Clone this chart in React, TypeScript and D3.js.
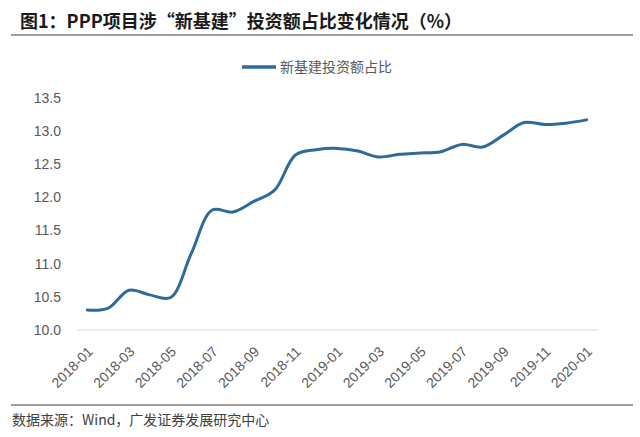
import React from "react";
import * as d3 from "d3";

const months: string[] = [
  "2018-01","2018-02","2018-03","2018-04","2018-05","2018-06","2018-07","2018-08","2018-09","2018-10","2018-11","2018-12",
  "2019-01","2019-02","2019-03","2019-04","2019-05","2019-06","2019-07","2019-08","2019-09","2019-10","2019-11","2019-12",
  "2020-01",
];
const shareValues: number[] = [
  10.30, 10.33, 10.60, 10.53, 10.49, 11.16, 11.81, 11.78, 11.94, 12.11, 12.64, 12.72,
  12.74, 12.70, 12.61, 12.65, 12.67, 12.69, 12.80, 12.76, 12.94, 13.13, 13.10, 13.12,
  13.17,
];
const yTicks: number[] = [10.0, 10.5, 11.0, 11.5, 12.0, 12.5, 13.0, 13.5];
const seriesName = "新基建投资额占比";
const titleText = "图1：PPP项目涉“新基建”投资额占比变化情况（%）";
const sourceText = "数据来源：Wind，广发证券发展研究中心";

const W = 640;
const H = 437;
const LINE = "#2f6b9a";
const TXT = "#595959";

export default function App() {
  const x = d3.scaleBand<string>().domain(months).range([77, 597]);
  const y = d3.scaleLinear().domain([10, 13.5]).range([330, 98]);
  const cx = (m: string) => (x(m) as number) + x.bandwidth() / 2;
  const line = d3
    .line<number>()
    .x((_, i) => cx(months[i]))
    .y((d) => y(d))
    .curve(d3.curveCatmullRom.alpha(0.5));
  const labelMonths = months.filter((_, i) => i % 2 === 0);
  const font = "Arial, 'Liberation Sans', 'Noto Sans CJK SC', sans-serif";
  return (
    <svg
      width={W}
      height={H}
      style={{ position: "absolute", left: 0, top: 0, background: "#fff" }}
      fontFamily={font}
    >
      <text x={20} y={28} fontSize={18} fontWeight="bold" fill="#1a1a1a"
        fontFamily="'Noto Sans CJK SC', sans-serif">{titleText}</text>
      <line x1={11} x2={633} y1={35} y2={35} stroke="#7f7f7f" strokeWidth={1.5} />

      <line x1={242} x2={276} y1={67} y2={67} stroke={LINE} strokeWidth={3.5} />
      <text x={280} y={72} fontSize={14} fill={TXT}
        fontFamily="'Noto Sans CJK SC', sans-serif">{seriesName}</text>

      {yTicks.map((t) => (
        <text key={t} x={61} y={y(t)} dy="0.35em" fontSize={14} textAnchor="end" fill={TXT}>
          {t.toFixed(1)}
        </text>
      ))}
      <line x1={77} x2={598} y1={y(10)} y2={y(10)} stroke="#d9d9d9" strokeWidth={1} />

      {labelMonths.map((m) => (
        <text key={m} transform={`translate(${cx(m) + 3},${349}) rotate(-45)`}
          textAnchor="end" dy="0.35em" fontSize={14} fill={TXT}>
          {m}
        </text>
      ))}

      <path d={line(shareValues) || ""} fill="none" stroke={LINE} strokeWidth={3}
        strokeLinecap="round" strokeLinejoin="round" />

      <line x1={11} x2={633} y1={405} y2={405} stroke="#7f7f7f" strokeWidth={1.5} />
      <text x={12} y={425} fontSize={14} fill="#404040"
        fontFamily="'Noto Sans CJK SC', sans-serif">{sourceText}</text>
    </svg>
  );
}
